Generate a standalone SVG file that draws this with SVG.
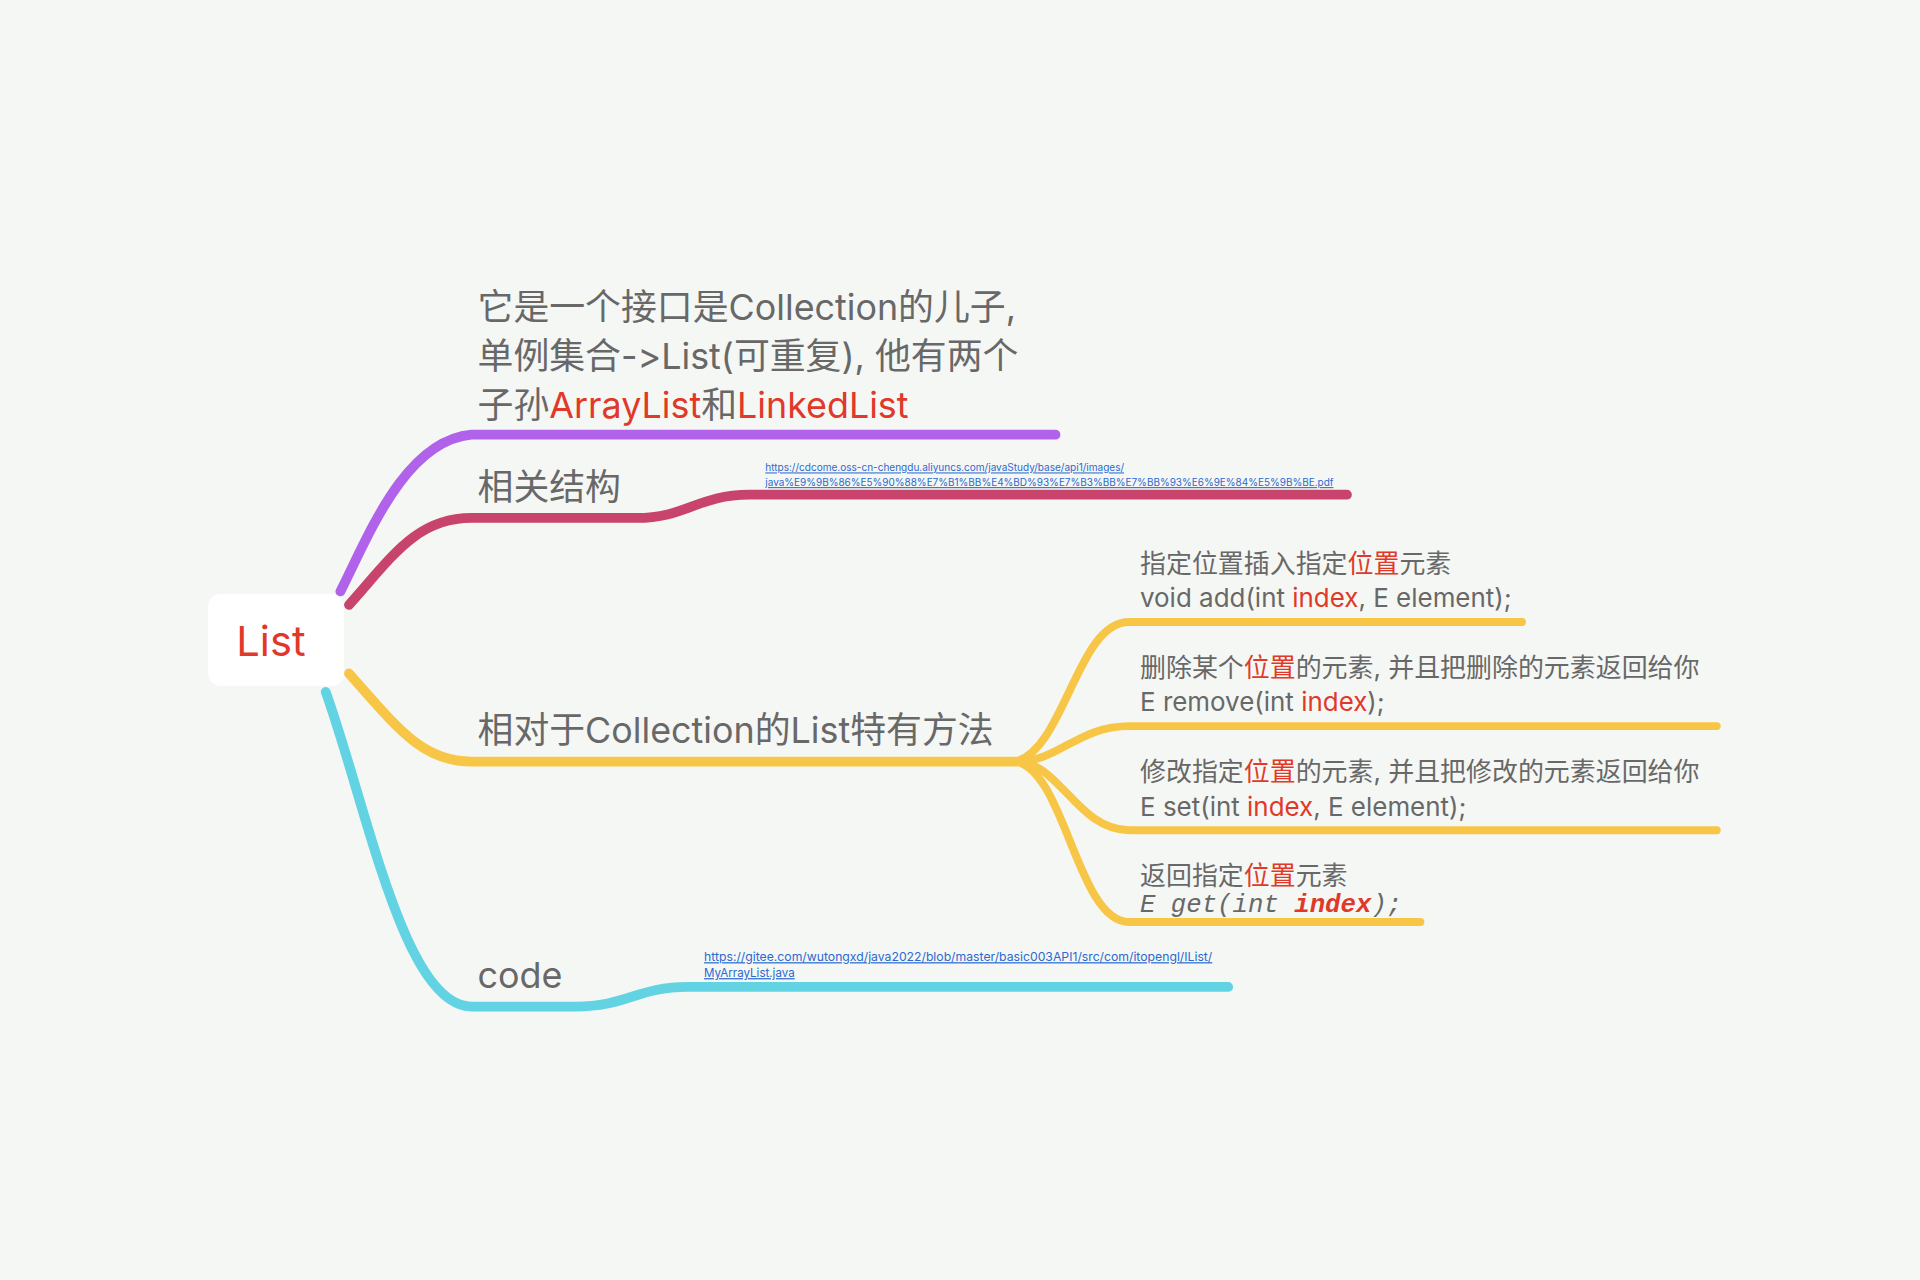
<svg xmlns="http://www.w3.org/2000/svg" width="1920" height="1280" viewBox="0 0 1920 1280">
<style>
.t{font-family:"Inter","Noto Sans CJK SC",sans-serif;fill:#686868;font-feature-settings:"calt" 0,"liga" 0;font-variant-ligatures:none}
.big{font-size:29.3px}
.sm{font-size:21.2px}
.r{fill:#e0392a}
.mono{font-family:"Liberation Mono","Noto Sans CJK SC",monospace;font-style:italic;font-size:21px;fill:#686868}
.link{font-family:"Inter","Liberation Sans",sans-serif;fill:#2b69d1;text-decoration:underline}
.c{fill:none;stroke-linecap:round;stroke-linejoin:round}
</style>
<rect width="1920" height="1280" fill="#f5f7f4"/>
<g transform="scale(1.2244898)">
<g id="connectors">
<path class="c" stroke="#b062eb" stroke-width="8" d="M278,483 C300,440 330,360 385,355 L862,355"/>
<path class="c" stroke="#c9446c" stroke-width="8" d="M285,494 C320,455 340,423 385,423 L520,423 C560,423 570,404 612,404 L1100,404"/>
<path class="c" stroke="#f8c647" stroke-width="8" d="M285,550 C325,595 345,622 385,622 L830,622"/>
<path class="c" stroke="#f8c647" stroke-width="6.5" d="M830,622 C870,610 880,508 922,508 L1243,508"/>
<path class="c" stroke="#f8c647" stroke-width="6.5" d="M830,622 C865,622 880,593 922,593 L1402,593"/>
<path class="c" stroke="#f8c647" stroke-width="6.5" d="M830,622 C865,622 880,678 922,678 L1402,678"/>
<path class="c" stroke="#f8c647" stroke-width="6.5" d="M830,622 C870,630 880,753 922,753 L1160,753"/>
<path class="c" stroke="#62d3e3" stroke-width="8" d="M266,565 C300,660 330,822 385,822 L470,822 C512,822 520,806 562,806 L1003,806"/>
</g>
<g id="root">
<rect x="170" y="485" width="111" height="75" rx="10" fill="#ffffff"/>
<text x="193" y="536" font-family="Inter,'Liberation Sans',sans-serif" font-size="34" fill="#e0392a">List</text>
</g>
<g id="node-interface">
<text class="t big" x="390" y="261">它是一个接口是Collection的儿子,</text>
<text class="t big" x="390" y="301">单例集合-&gt;List(可重复), 他有两个</text>
<text class="t big" x="390" y="341">子孙<tspan class="r">ArrayList</tspan>和<tspan class="r">LinkedList</tspan></text>
</g>
<g id="node-structure">
<text class="t big" x="390" y="408">相关结构</text>
</g>
<g id="node-structure-link">
<text class="link" x="625" y="385" font-size="8.5" textLength="293" lengthAdjust="spacingAndGlyphs">https://cdcome.oss-cn-chengdu.aliyuncs.com/javaStudy/base/api1/images/</text>
<text class="link" x="625" y="397" font-size="8.5" textLength="464" lengthAdjust="spacingAndGlyphs">java%E9%9B%86%E5%90%88%E7%B1%BB%E4%BD%93%E7%B3%BB%E7%BB%93%E6%9E%84%E5%9B%BE.pdf</text>
</g>
<g id="node-methods">
<text class="t big" x="390" y="607">相对于Collection的List特有方法</text>
</g>
<g id="node-add">
<text class="t sm" x="931" y="468">指定位置插入指定<tspan class="r">位置</tspan>元素</text>
<text class="t sm" x="931" y="496">void add(int <tspan class="r">index</tspan>, E element);</text>
</g>
<g id="node-remove">
<text class="t sm" x="931" y="553">删除某个<tspan class="r">位置</tspan>的元素, 并且把删除的元素返回给你</text>
<text class="t sm" x="931" y="581">E remove(int <tspan class="r">index</tspan>);</text>
</g>
<g id="node-set">
<text class="t sm" x="931" y="638">修改指定<tspan class="r">位置</tspan>的元素, 并且把修改的元素返回给你</text>
<text class="t sm" x="931" y="666">E set(int <tspan class="r">index</tspan>, E element);</text>
</g>
<g id="node-get">
<text class="t sm" x="931" y="723">返回指定<tspan class="r">位置</tspan>元素</text>
<text class="mono" x="931" y="745">E get(int <tspan fill="#e0392a" font-weight="bold">index</tspan>);</text>
</g>
<g id="node-code">
<text class="t big" x="390" y="807">code</text>
</g>
<g id="node-code-link">
<text class="link" x="575" y="785" font-size="10" textLength="415" lengthAdjust="spacingAndGlyphs">https://gitee.com/wutongxd/java2022/blob/master/basic003API1/src/com/itopengl/IList/</text>
<text class="link" x="575" y="798" font-size="10" textLength="74" lengthAdjust="spacingAndGlyphs">MyArrayList.java</text>
</g>
</g>
</svg>
